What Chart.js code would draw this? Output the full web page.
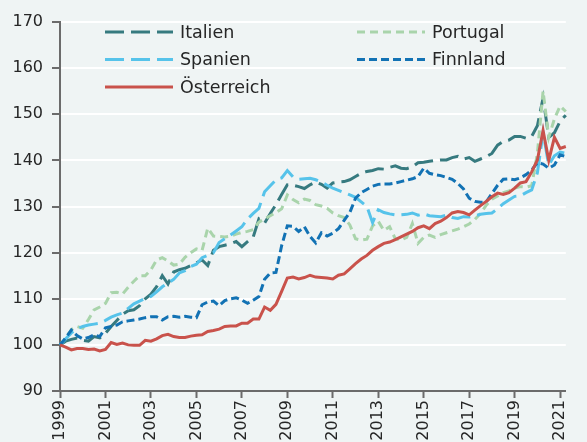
<!DOCTYPE html>
<html>
<head>
<meta charset="utf-8">
<script src="https://cdn.jsdelivr.net/npm/chart.js@4.4.1/dist/chart.umd.min.js"></script>
<style>
html,body{margin:0;padding:0;background:#eff4f4;overflow:hidden}
#wrap{position:relative;width:587px;height:442px}
</style>
</head>
<body>
<div id="wrap"><canvas id="chart"></canvas></div>
<script>
// ---------- Data (index, 1999Q1 = 100), quarterly 1999Q1 - 2021Q2
const quarters = [];
for (let y = 1999; y <= 2021; y++) for (let q = 1; q <= 4; q++) quarters.push(y + 'Q' + q);
quarters.length = 90;

const italien = [
  100, 100.8, 101.2, 101.5,  101.0, 100.8, 101.8, 101.5,  102.5, 104.0, 105.3, 106.6,
  107.4, 107.6, 108.5, 110.0,  111.0, 112.6, 115.0, 113.2,  115.8, 116.3, 116.6, 117.2,
  117.8, 118.4, 117.2, 120.5,  121.3, 121.6, 121.9, 122.4,  121.3, 122.4, 123.4, 127.3,
  126.4, 128.5, 130.4, 132.6,  134.7, 134.6, 134.3, 133.9,  134.7, 135.3, 134.8, 134.0,
  135.1, 135.3, 135.4, 135.8,  136.5, 137.2, 137.6, 137.8,  138.2, 138.1, 138.5, 138.8,
  138.3, 138.2, 138.6, 139.5,  139.6, 139.8, 140.0, 140.1,  140.1, 140.6, 140.9, 140.3,
  140.6, 139.8, 140.3, 140.8,  141.5, 143.3, 144.1, 144.4,  145.2, 145.2, 144.8, 145.2,
  147.5, 153.5, 145.0, 146.0,  148.5, 149.8
];
const portugal = [
  100, 101.5, 103.3, 104.0,  103.6, 105.5, 107.6, 108.2,  109.0, 111.3, 111.4, 111.0,
  112.5, 113.8, 115.0, 115.0,  116.3, 118.4, 118.9, 118.2,  117.3, 117.5, 119.0, 120.0,
  120.8, 120.5, 125.3, 123.6,  123.5, 123.4, 123.6, 124.0,  124.4, 124.6, 125.0, 126.6,
  127.3, 128.0, 128.7, 129.5,  132.5, 131.5, 130.8, 131.6,  131.3, 130.4, 130.1, 129.6,
  128.6, 128.0, 127.6, 126.0,  123.0, 122.7, 122.9, 125.8,  126.8, 124.8, 125.6, 123.0,
  122.7, 123.3, 126.3, 122.0,  123.3, 123.8, 123.3, 123.9,  124.3, 124.7, 125.1, 125.6,
  126.2, 127.2, 128.5, 130.3,  131.6, 132.3, 133.0, 133.4,  134.0, 134.3, 134.2, 134.5,
  141.5, 155.0, 145.0, 149.0,  151.8, 150.6
];
const spanien = [
  100, 101.3, 102.6, 103.5,  104.0, 104.3, 104.5, 104.7,  105.3, 106.0, 106.5, 106.9,
  107.9, 108.9, 109.5, 110.1,  110.5, 111.5, 112.6, 113.4,  114.2, 115.6, 116.1, 117.0,
  117.5, 118.9, 119.4, 120.0,  122.2, 123.0, 123.8, 124.7,  125.6, 127.3, 128.5, 129.6,
  133.2, 134.5, 135.8, 136.2,  137.8, 136.4, 135.9, 136.0,  136.1, 135.8, 135.3, 134.6,
  134.0, 133.5, 133.0, 132.5,  132.0, 131.0, 130.0, 126.5,  129.3, 128.7, 128.4, 128.2,
  128.2, 128.3, 128.6, 128.1,  128.4, 128.0, 127.9, 127.8,  128.1, 127.6, 127.4, 127.8,
  127.7, 128.0, 128.3, 128.5,  128.6, 129.5, 130.6, 131.4,  132.2, 132.3, 133.0, 133.6,
  137.3, 146.0, 139.0, 141.0,  141.8, 141.5
];
const finnland = [
  100, 101.5, 103.2, 102.0,  101.3, 101.6, 102.2, 101.8,  103.7, 104.0, 104.3, 105.0,
  105.2, 105.4, 105.6, 105.9,  106.1, 106.1, 105.4, 106.1,  106.2, 106.0, 106.2, 106.0,
  105.9, 108.7, 109.3, 109.5,  108.5, 109.6, 110.0, 110.2,  109.7, 109.0, 109.7, 110.5,
  114.2, 115.6, 115.7, 121.5,  125.8, 125.7, 124.6, 125.6,  123.5, 122.1, 124.3, 123.6,
  124.2, 125.2, 127.0, 128.7,  131.8, 133.0, 133.7, 134.4,  134.8, 134.9, 134.9, 135.1,
  135.4, 135.7, 136.0, 136.5,  138.3, 137.2, 136.9, 136.7,  136.3, 135.9, 135.0, 133.8,
  131.8, 131.1, 130.9, 131.0,  132.8, 134.6, 135.9, 136.0,  135.8, 136.2, 136.9, 137.9,
  139.5, 139.2, 138.3, 139.0,  141.2, 140.8
];
const oesterreich = [
  100, 99.5, 98.9, 99.2,  99.2, 99.0, 99.1, 98.7,  99.0, 100.5, 100.1, 100.4,
  100.0, 99.9, 99.9, 101.0,  100.8, 101.3, 102.0, 102.3,  101.8, 101.6, 101.6, 101.9,
  102.1, 102.2, 102.9, 103.1,  103.4, 104.0, 104.1, 104.1,  104.7, 104.7, 105.6, 105.6,
  108.2, 107.5, 108.8, 111.6,  114.5, 114.7, 114.3, 114.6,  115.1, 114.7, 114.6, 114.5,
  114.3, 115.1, 115.4, 116.5,  117.6, 118.6, 119.4, 120.5,  121.3, 122.0, 122.3, 122.8,
  123.4, 124.0, 124.6, 125.4,  125.8, 125.2, 126.3, 126.8,  127.6, 128.6, 128.9, 128.7,
  128.2, 129.2, 130.2, 131.1,  132.1, 132.9, 132.6, 133.0,  134.0, 135.1, 135.4, 137.5,
  140.1, 146.5, 140.0, 145.0,  142.6, 143.0
];
const yTicks = { min: 90, max: 170, step: 10 };

// ---------- Helpers
const FONT = 'DejaVu Sans';
const BG = '#eff4f4';
function isYearTick(i){ const q = quarters[i]; return q && q.endsWith('Q1') && (+q.slice(0,4) - 1999) % 2 === 0; }
function series(label, data, color, dash, order){
  return { label, data, borderColor: color, backgroundColor: color, borderDash: dash, borderWidth: 3,
    pointRadius: 0, tension: 0, fill: false, borderCapStyle: 'butt', order };
}

// background + legend drawn inside plot, two columns like the original
const bgPlugin = {
  id: 'bg',
  beforeDraw(chart){ const c = chart.ctx; c.save(); c.fillStyle = BG; c.fillRect(0,0,chart.width,chart.height); c.restore(); }
};
const legendPlugin = {
  id: 'inlineLegend',
  afterDatasetsDraw(chart){
    const c = chart.ctx;
    chart.data.datasets.forEach((ds, i) => {
      const col = i % 2, row = Math.floor(i / 2);
      const x0 = col ? 357 : 105, y = 32 + row * 27.5;
      c.save();
      c.strokeStyle = ds.borderColor; c.lineWidth = 3; c.setLineDash(ds.borderDash || []);
      c.beginPath(); c.moveTo(x0, y); c.lineTo(x0 + 68, y); c.stroke();
      c.setLineDash([]);
      c.fillStyle = '#262626'; c.font = '17.5px "' + FONT + '"'; c.textBaseline = 'middle';
      c.fillText(ds.label, x0 + 75, y + 1);
      c.restore();
    });
  }
};

// ---------- Chart
new Chart(document.getElementById('chart').getContext('2d'), {
  type: 'line',
  data: {
    labels: quarters,
    datasets: [
      series('Italien', italien, '#367a7f', [19, 7], 5),
      series('Portugal', portugal, '#a9d4ab', [8, 5], 4),
      series('Spanien', spanien, '#56c3ea', [19, 7], 3),
      series('Finnland', finnland, '#1272b4', [8, 4], 2),
      series('Österreich', oesterreich, '#c9524b', [], 1)
    ]
  },
  options: {
    animation: false, responsive: true, maintainAspectRatio: false,
    layout: { padding: { top: 22, right: 0, bottom: 0, left: 0 }, autoPadding: false },
    plugins: { legend: { display: false }, tooltip: { enabled: false } },
    scales: {
      x: {
        type: 'category', offset: false,
        afterFit: s => { s.height = 51; },
        grid: { drawOnChartArea: false, drawTicks: true, tickLength: 7, tickWidth: 2,
          tickColor: ctx => isYearTick(ctx.index) ? '#6b6b6b' : 'transparent' },
        border: { display: true, color: '#6b6b6b', width: 2 },
        ticks: { autoSkip: false, minRotation: 90, maxRotation: 90, padding: 2, color: '#262626',
          font: { family: FONT, size: 16 },
          callback: (v, i) => isYearTick(i) ? quarters[i].slice(0, 4) : '' }
      },
      y: {
        min: yTicks.min, max: yTicks.max,
        afterFit: s => { s.width = 60; },
        grid: { color: ctx => ctx.tick && ctx.tick.value === yTicks.min ? 'transparent' : '#ffffff', lineWidth: 2,
          tickLength: 8, tickColor: '#6b6b6b', tickWidth: 2 },
        border: { display: true, color: '#6b6b6b', width: 2 },
        ticks: { stepSize: yTicks.step, padding: 9, color: '#262626', font: { family: FONT, size: 16 } }
      }
    }
  },
  plugins: [bgPlugin, legendPlugin]
});
</script>
</body>
</html>
